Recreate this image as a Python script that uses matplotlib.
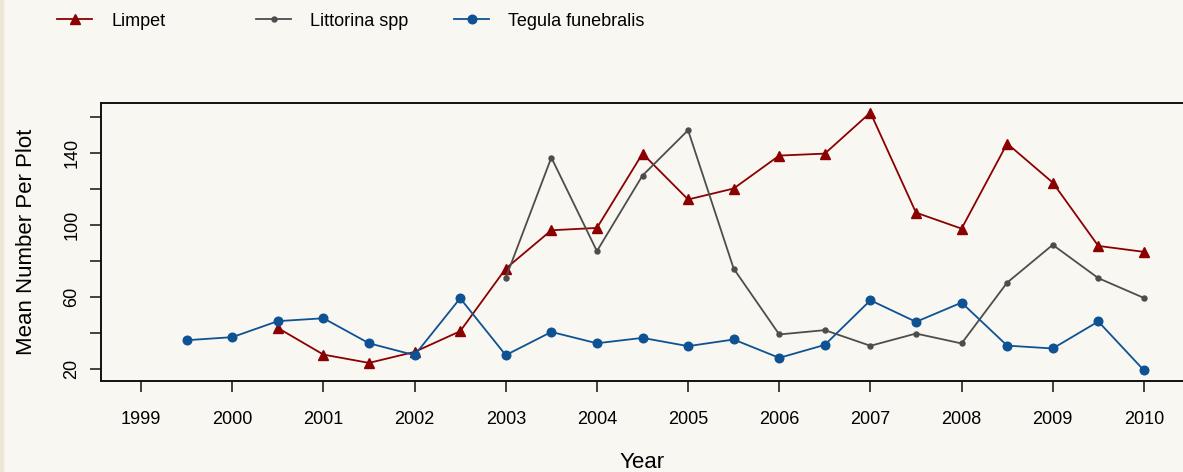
import numpy as np
import matplotlib.pyplot as plt

# survey dates (half-year steps) and mean counts
limpet_years = [2000.5, 2001, 2001.5, 2002, 2002.5, 2003, 2003.5, 2004, 2004.5, 2005,
                2005.5, 2006, 2006.5, 2007, 2007.5, 2008, 2008.5, 2009, 2009.5, 2010]
limpet = [42.9, 28.1, 23.5, 29.6, 41.1, 75.9, 97.2, 98.5, 139.8, 114.3,
          120.4, 138.7, 139.8, 162.6, 107.0, 98.1, 145.4, 123.7, 88.5, 85.2]

littorina_years = [2003, 2003.5, 2004, 2004.5, 2005, 2005.5, 2006, 2006.5,
                   2007, 2007.5, 2008, 2008.5, 2009, 2009.5, 2010]
littorina = [70.7, 137.6, 85.6, 127.6, 152.8, 75.9, 39.3, 41.7,
             33.0, 39.8, 34.3, 68.1, 89.1, 70.6, 59.6]

tegula_years = [1999.5, 2000, 2000.5, 2001, 2001.5, 2002, 2002.5, 2003, 2003.5, 2004, 2004.5,
                2005, 2005.5, 2006, 2006.5, 2007, 2007.5, 2008, 2008.5, 2009, 2009.5, 2010]
tegula = [36.1, 37.8, 46.7, 48.3, 34.4, 27.8, 59.4, 27.8, 40.7, 34.4, 37.4,
          32.8, 36.5, 26.3, 33.5, 58.3, 46.3, 57.0, 33.1, 31.5, 46.5, 19.4]

year_ticks = list(range(1999, 2011))
y_ticks = [20, 60, 100, 140]
y_minor = [40, 80, 120, 160]

bg = "#f8f7f2"
plt.rcParams['font.family'] = ['Liberation Sans', 'DejaVu Sans']

fig = plt.figure(figsize=(11.83, 4.72), dpi=100, facecolor=bg)
fig.patches.append(plt.Rectangle((0, 0), 3 / 1183, 1, transform=fig.transFigure,
                                 color="#ece6d6", zorder=0))
ax = fig.add_axes([101 / 1183, 91.3 / 472, 1083 / 1183, 278.2 / 472])
ax.set_facecolor(bg)

l1, = ax.plot(limpet_years, limpet, color="#8b0000", lw=1.3, marker="^", ms=6.5,
              label="Limpet", clip_on=False)
l2, = ax.plot(littorina_years, littorina, color="#4d4d4d", lw=1.3, marker="o", ms=3.6,
              label="Littorina spp", clip_on=False)
l3, = ax.plot(tegula_years, tegula, color="#0e5293", lw=1.3, marker="o", ms=6.2,
              label="Tegula funebralis", clip_on=False)

ax.set_xlim(1998.56, 2010.44)
ax.set_ylim(13.6, 168.2)
ax.set_xticks(year_ticks)
ax.set_xticklabels([str(y) for y in year_ticks])
ax.set_yticks(y_ticks)
ax.set_yticks(y_minor, minor=True)
ax.set_yticklabels([str(v) for v in y_ticks], rotation=90, va="center")
ax.tick_params(axis="both", which="both", length=8, width=1.2, color="#222222",
               labelsize=13, pad=7)
ax.tick_params(axis="x", pad=14)
for s in ["left", "bottom", "top"]:
    ax.spines[s].set_linewidth(1.4)
    ax.spines[s].set_color("#111111")
ax.spines["right"].set_visible(False)

ax.set_xlabel("Year", fontsize=16, labelpad=17)
ax.set_ylabel("Mean Number Per Plot", fontsize=16, labelpad=19)

# legend entries spaced out along the top, one per species
for line, xpos in zip([l1, l2, l3], [57, 256, 454]):
    leg = fig.legend(handles=[line], loc="center left",
                     bbox_to_anchor=(xpos / 1183, 1 - 21 / 472),
                     frameon=False, fontsize=13, handlelength=1.95,
                     handletextpad=1.05, borderaxespad=0, borderpad=0)

fig.savefig("out.png", dpi=100, facecolor=bg)
